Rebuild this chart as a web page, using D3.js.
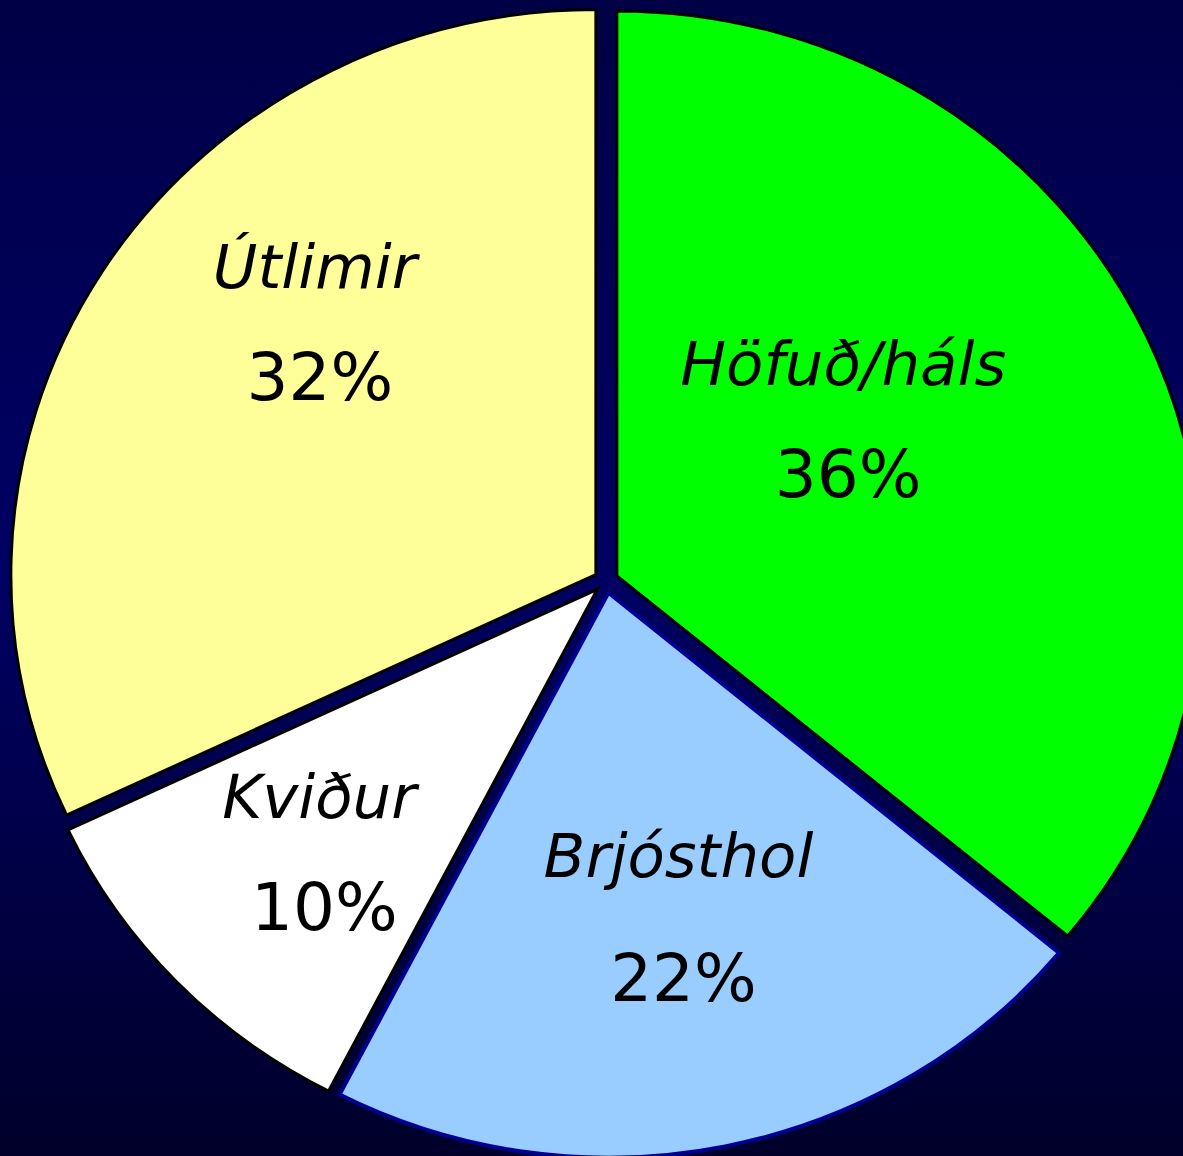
<!DOCTYPE html>
<html>
<head>
<meta charset="utf-8">
<script src="https://cdn.jsdelivr.net/npm/d3@7"></script>
<style>
  body { margin: 0; background: #000040; }
  svg { display: block; }
  .name { font-family: "DejaVu Sans", sans-serif; font-style: italic; font-size: 61px; }
  .pct { font-family: "DejaVu Sans", sans-serif; font-size: 66px; }
</style>
</head>
<body>
<svg id="chart"></svg>
<script>
var width = 1183;
var height = 1156;

// data (shares, labels show them rounded)
var categories = ["Höfuð/háls", "Brjósthol", "Kviður", "Útlimir"];
var values = [36, 21.6, 10.4, 32];
var colours = ["#00ff00", "#99ccff", "#ffffff", "#ffff99"];
var strokes = ["#000000", "#000090", "#000000", "#000000"];

// label placement relative to each slice (angle nudge in degrees, radius fraction, line gap)
var labelNudge = [-6, 0, -3, 8];
var labelRadius = [0.48, 0.646, 0.71, 0.647];
var labelGap = [56, 62, 56, 56];

var cx = 606, cy = 581;
var rx = 585, ry = 565;
var explode = 12;

var svg = d3.select("#chart").attr("width", width).attr("height", height);

var grad = svg.append("defs").append("linearGradient")
    .attr("id", "bg").attr("x1", 0).attr("y1", 0).attr("x2", 0).attr("y2", 1);
grad.append("stop").attr("offset", "0%").attr("stop-color", "#000046");
grad.append("stop").attr("offset", "48%").attr("stop-color", "#000064");
grad.append("stop").attr("offset", "100%").attr("stop-color", "#00002a");

svg.append("rect").attr("width", width).attr("height", height).attr("fill", "url(#bg)");

var pie = d3.pie().sort(null).value(function(d) { return d; });
var arcs = pie(values);
var arc = d3.arc().innerRadius(0).outerRadius(ry);

function midAngle(d) { return (d.startAngle + d.endAngle) / 2; }

svg.selectAll("path.slice").data(arcs).enter().append("path")
    .attr("class", "slice")
    .attr("d", arc)
    .attr("transform", function(d) {
        var a = midAngle(d);
        var ox = cx + explode * Math.sin(a);
        var oy = cy - explode * Math.cos(a);
        return "translate(" + ox + "," + oy + ") scale(" + (rx / ry) + ",1)";
    })
    .attr("fill", function(d, i) { return colours[i]; })
    .attr("stroke", function(d, i) { return strokes[i]; })
    .attr("stroke-width", function(d, i) { return i == 1 ? 4 : 3; })
    .attr("stroke-linejoin", "miter")
    .attr("vector-effect", "non-scaling-stroke");

var labels = svg.selectAll("g.label").data(arcs).enter().append("g")
    .attr("class", "label")
    .attr("transform", function(d, i) {
        var a = midAngle(d) + labelNudge[i] * Math.PI / 180;
        var x = cx + labelRadius[i] * rx * Math.sin(a);
        var y = cy - labelRadius[i] * ry * Math.cos(a);
        return "translate(" + x + "," + y + ")";
    });

labels.append("text")
    .attr("class", "name")
    .attr("text-anchor", "middle")
    .attr("y", function(d, i) { return -labelGap[i]; })
    .attr("x", -3)
    .text(function(d, i) { return categories[i]; });

labels.append("text")
    .attr("class", "pct")
    .attr("text-anchor", "middle")
    .attr("y", function(d, i) { return labelGap[i]; })
    .attr("x", 2)
    .text(function(d) { return Math.round(d.value) + "%"; });
</script>
</body>
</html>
